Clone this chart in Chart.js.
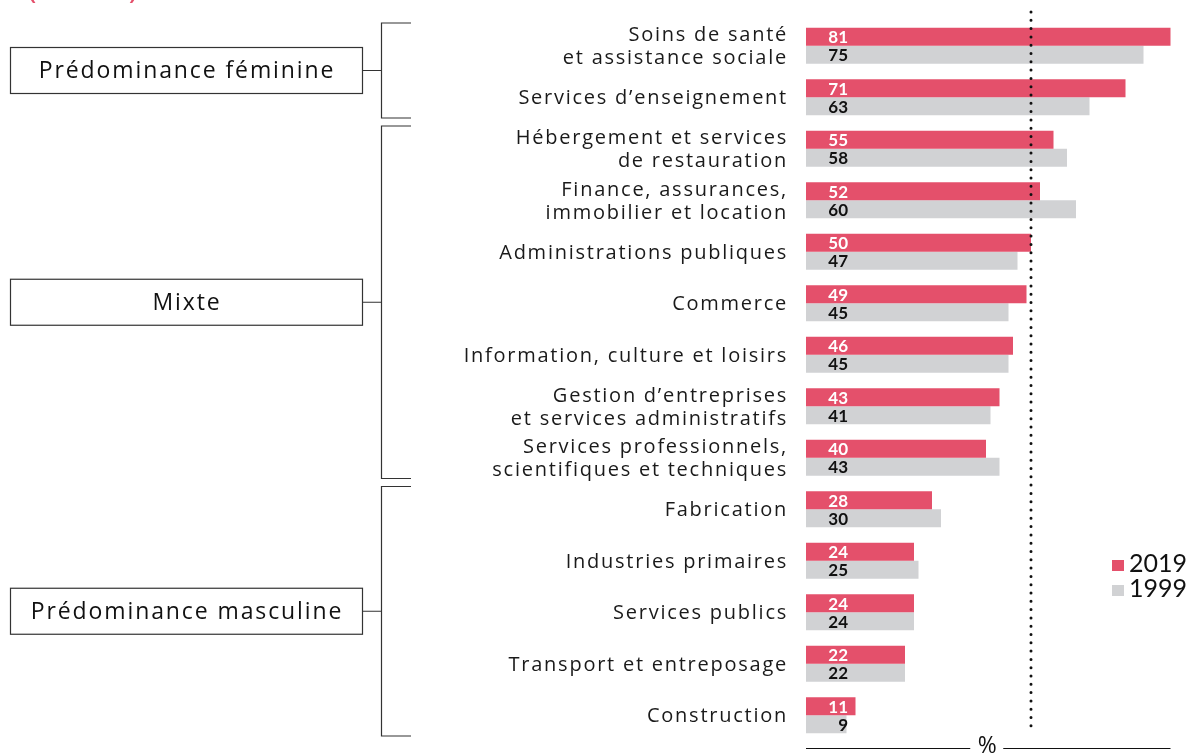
<!DOCTYPE html>
<html>
<head>
<meta charset="utf-8">
<script src="https://cdn.jsdelivr.net/npm/chart.js"></script>
<style>
  html, body { margin: 0; padding: 0; background: #fff; }
  #wrap { width: 1194px; height: 755px; position: relative; }
</style>
</head>
<body>
<div id="wrap"><canvas id="chart"></canvas></div>
<script>
// Secteurs (libellés sur deux lignes quand il le faut)
const categories = [
    ["Soins de santé", "et assistance sociale"],
    ["Services d’enseignement"],
    ["Hébergement et services", "de restauration"],
    ["Finance, assurances,", "immobilier et location"],
    ["Administrations publiques"],
    ["Commerce"],
    ["Information, culture et loisirs"],
    ["Gestion d’entreprises", "et services administratifs"],
    ["Services professionnels,", "scientifiques et techniques"],
    ["Fabrication"],
    ["Industries primaires"],
    ["Services publics"],
    ["Transport et entreposage"],
    ["Construction"]
];
const values2019 = [81, 71, 55, 52, 50, 49, 46, 43, 40, 28, 24, 24, 22, 11];
const values1999 = [75, 63, 58, 60, 47, 45, 45, 41, 43, 30, 25, 24, 22, 9];
const seriesLabels = ["2019", "1999"];

// Groupes: [libellé, premier index, dernier index]
const groups = [
    ["Prédominance féminine", 0, 1],
    ["Mixte", 2, 8],
    ["Prédominance masculine", 9, 13]
];
const parityLine = 50;
const axisTitle = "%";
const headNote = "(en %)";

const RED = "#e4506b";
const GREY = "#d1d2d4";
const FONT = "'Open Sans', Lato, sans-serif";

// Category labels, brackets, boxes, legend, dotted line, bottom axis
const decorations = {
    id: "decorations",
    afterDatasetsDraw(chart) {
        const ctx = chart.ctx;
        const y = chart.scales.y;
        const x = chart.scales.x;
        const half = (y.getPixelForValue(1) - y.getPixelForValue(0)) / 2;

        ctx.save();

        // partial red note at the very top
        ctx.fillStyle = RED;
        ctx.font = "32px " + FONT;
        ctx.letterSpacing = "4px";
        ctx.textAlign = "left";
        ctx.textBaseline = "alphabetic";
        ctx.fillText(headNote, 27, -2);

        // category labels
        ctx.font = "20px " + FONT;
        ctx.letterSpacing = "1.75px";
        ctx.fillStyle = "#1a1a1a";
        ctx.textAlign = "right";
        ctx.textBaseline = "middle";
        categories.forEach((lines, i) => {
            const cy = y.getPixelForValue(i) + 1.5;
            const lh = 23;
            lines.forEach((t, k) => {
                ctx.fillText(t, 788, cy + (k - (lines.length - 1) / 2) * lh);
            });
        });

        // data labels
        ctx.letterSpacing = "0px";
        ctx.font = "bold 17px Lato, sans-serif";
        chart.data.datasets.forEach((ds, i) => {
            chart.getDatasetMeta(i).data.forEach((bar, j) => {
                ctx.fillStyle = i === 0 ? "#fff" : "#111";
                ctx.fillText(ds.data[j], bar.base + 42, bar.y + 1);
            });
        });

        // brackets + boxes
        ctx.strokeStyle = "#333";
        ctx.lineWidth = 1.2;
        groups.forEach(([name, a, b]) => {
            const top = y.getPixelForValue(a) - half + 3;
            const bot = y.getPixelForValue(b) + half - 5;
            const mid = (top + bot) / 2;
            const bx = 381.5;
            ctx.beginPath();
            ctx.moveTo(411, top);
            ctx.lineTo(bx, top);
            ctx.lineTo(bx, bot);
            ctx.lineTo(411, bot);
            ctx.moveTo(bx, mid);
            ctx.lineTo(362, mid);
            ctx.stroke();

            ctx.strokeRect(10.5, mid - 23, 352, 46);
            ctx.fillStyle = "#111";
            ctx.font = "23px " + FONT;
            ctx.letterSpacing = "1.9px";
            ctx.textAlign = "center";
            ctx.textBaseline = "middle";
            ctx.fillText(name, 187, mid + 1);
            ctx.letterSpacing = "0px";
        });

        // dotted 50% line
        const px = Math.round(x.getPixelForValue(parityLine));
        ctx.strokeStyle = "#111";
        ctx.lineWidth = 3;
        ctx.lineCap = "round";
        ctx.setLineDash([0, 8.3]);
        ctx.beginPath();
        ctx.moveTo(px, 12);
        ctx.lineTo(px, 734);
        ctx.stroke();
        ctx.setLineDash([]);
        ctx.lineCap = "butt";

        // bottom axis line with % in the middle
        const x0 = x.getPixelForValue(0);
        const x1 = x.getPixelForValue(81);
        const cx = (x0 + x1) / 2;
        ctx.lineWidth = 1.2;
        ctx.beginPath();
        ctx.moveTo(x0, 748.5);
        ctx.lineTo(cx - 18, 748.5);
        ctx.moveTo(cx + 15, 748.5);
        ctx.lineTo(x1, 748.5);
        ctx.stroke();
        ctx.fillStyle = "#111";
        ctx.font = "23px " + FONT;
        ctx.textAlign = "center";
        ctx.textBaseline = "middle";
        ctx.fillText(axisTitle, cx - 1, 746);

        // legend
        ctx.font = "25px Lato, sans-serif";
        ctx.textAlign = "left";
        [RED, GREY].forEach((c, i) => {
            const ly = 564 + i * 25;
            ctx.fillStyle = c;
            ctx.fillRect(1112, ly - 4, 12, 11);
            ctx.fillStyle = "#111";
            ctx.fillText(seriesLabels[i], 1129, ly);
        });

        ctx.restore();
    }
};

new Chart(document.getElementById("chart"), {
    type: "bar",
    data: {
        labels: categories.map(l => l.join(" ")),
        datasets: [
            { label: seriesLabels[0], data: values2019, backgroundColor: RED },
            { label: seriesLabels[1], data: values1999, backgroundColor: GREY }
        ]
    },
    options: {
        indexAxis: "y",
        responsive: true,
        maintainAspectRatio: false,
        animation: false,
        layout: { padding: { top: 20, bottom: 14, right: 5.5, left: 0 } },
        datasets: { bar: { categoryPercentage: 0.7, barPercentage: 1.0 } },
        plugins: {
            legend: { display: false },
            tooltip: { enabled: false }
        },
        scales: {
            x: { display: false, min: 0, max: 85 },
            y: {
                grid: { display: false, drawTicks: false },
                border: { display: false },
                ticks: { display: false },
                afterFit(scale) {
                    scale.width = 806;
                    scale.paddingTop = 0;
                    scale.paddingBottom = 0;
                }
            }
        }
    },
    plugins: [decorations]
});
</script>
</body>
</html>
